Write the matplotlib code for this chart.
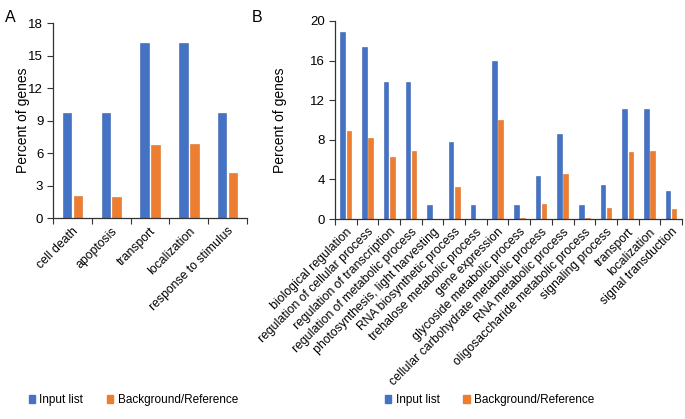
import matplotlib.pyplot as plt
from matplotlib.patches import Patch
import numpy as np

plt.rcParams['font.family'] = ['Liberation Sans', 'DejaVu Sans']

BLUE = '#4472C4'
ORANGE = '#ED7D31'

# panel A
a_terms = ['cell death', 'apoptosis', 'transport', 'localization', 'response to stimulus']
a_input = [9.7, 9.7, 16.15, 16.15, 9.7]
a_background = [2.05, 1.95, 6.75, 6.85, 4.2]

# panel B
b_terms = ['biological regulation', 'regulation of cellular process', 'regulation of transcription',
           'regulation of metabolic process', 'photosynthesis, light harvesting', 'RNA biosynthetic process',
           'trehalose metabolic process', 'gene expression', 'glycoside metabolic process',
           'cellular carbohydrate metabolic process', 'RNA metabolic process',
           'oligosaccharide metabolic process', 'signaling process', 'transport', 'localization',
           'signal transduction']
b_input = [18.9, 17.4, 13.8, 13.8, 1.45, 7.8, 1.45, 16.0, 1.45, 4.35, 8.55, 1.45, 3.4, 11.1, 11.1, 2.8]
b_background = [8.85, 8.2, 6.3, 6.9, 0.0, 3.2, 0.0, 10.05, 0.15, 1.55, 4.5, 0.1, 1.15, 6.8, 6.85, 1.0]

fig = plt.figure(figsize=(6.85, 4.19), dpi=100)
axA = fig.add_axes([0.0774, 0.4797, 0.2832, 0.4654])
axB = fig.add_axes([0.489, 0.4773, 0.5066, 0.4726])


def draw(ax, terms, inp, bg, ymax, ystep, width, off, pad):
    x = np.arange(len(terms))
    ax.bar(x - off, inp, width, color=BLUE, edgecolor='#3A62AE', linewidth=0.4)
    ax.bar(x + off, bg, width, color=ORANGE, edgecolor='#D96E25', linewidth=0.4)
    ax.set_xlim(-0.5, len(terms) - 0.5)
    ax.set_ylim(0, ymax)
    ax.set_yticks(np.arange(0, ymax + 0.1, ystep))
    ax.set_xticks(x)
    ax.set_xticklabels(terms, rotation=45, ha='right', rotation_mode='anchor', fontsize=8.8)
    ax.set_xticks(np.arange(-0.5, len(terms)), minor=True)
    ax.tick_params(axis='x', which='major', length=0, pad=5)
    ax.tick_params(axis='x', which='minor', length=4, width=0.8, color='#333333', direction='out')
    ax.tick_params(axis='y', length=4, width=0.8, color='#333333', labelsize=9.5, pad=3)
    for s in ['top', 'right']:
        ax.spines[s].set_visible(False)
    for s in ['left', 'bottom']:
        ax.spines[s].set_color('#333333')
        ax.spines[s].set_linewidth(0.9)
    ax.set_ylabel('Percent of genes', fontsize=10, labelpad=pad)


draw(axA, a_terms, a_input, a_background, 18, 3, 0.22, 0.14, -1)
draw(axB, b_terms, b_input, b_background, 20, 4, 0.21, 0.14, 17)

fig.text(0.007, 0.975, 'A', fontsize=11.5, va='top')
fig.text(0.368, 0.975, 'B', fontsize=11.5, va='top')

handles = [Patch(color=BLUE), Patch(color=ORANGE)]
labels = ['Input list', 'Background/Reference']
for xpos in [0.042, 0.562]:
    fig.legend(handles, labels, loc='center left', bbox_to_anchor=(xpos, 0.045), ncol=2,
               frameon=False, fontsize=8.5, handlelength=0.55, handleheight=0.55,
               handletextpad=0.35, columnspacing=2.0, borderaxespad=0, borderpad=0)

fig.savefig('out.png', dpi=100)
